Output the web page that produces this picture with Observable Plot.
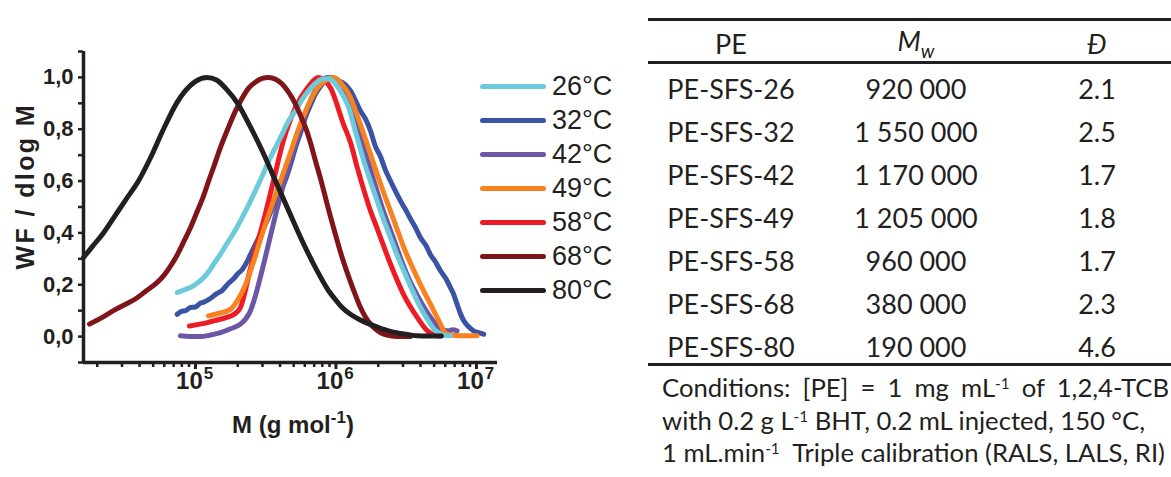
<!DOCTYPE html>
<html><head><meta charset="utf-8">
<script src="https://cdn.jsdelivr.net/npm/d3@7"></script>
<script src="https://cdn.jsdelivr.net/npm/@observablehq/plot@0.6"></script>
<style>
body{margin:0;background:#fff;}
#wrap{position:relative;width:1171px;height:477px;overflow:hidden;font-family:"Liberation Sans",Arial,sans-serif;color:#231f20;}
#chart{position:absolute;left:0;top:0;}
#legend{position:absolute;left:480px;top:69px;}
.lg{height:34px;display:flex;align-items:center;}
.lg .sw{width:66px;height:5px;border-radius:3px;margin-right:6px;}
.lg span{font-size:27px;line-height:34px;}
#tbl{position:absolute;left:0;top:0;width:1171px;height:477px;font-family:Lato,"Open Sans",sans-serif;}
.cell{position:absolute;transform:translate(-50%,-50%);font-size:27px;white-space:nowrap;}
.rule{position:absolute;left:648px;width:530px;height:3px;background:#231f20;}
.cond{position:absolute;left:662px;font-size:23px;white-space:nowrap;transform:translateY(-50%);}
.cond sup{font-size:0.6em;vertical-align:0.55em;line-height:0;}
</style></head>
<body><div id="wrap"><div id="chart"></div><div id="legend"></div><div id="tbl"></div></div>
<script>
// ---------- data (log10 M, WF/dlogM) ----------
const temps = ["26°C","32°C","42°C","49°C","58°C","68°C","80°C"];
const colors = ["#6ccbdb","#3a53a4","#6b57a6","#f7821f","#ed1c24","#7f1518","#231f20"];

const c26 = [[4.87,0.17],[4.92,0.18],[4.964,0.189],[5.01,0.205],[5.059,0.228],[5.1,0.255],[5.13,0.28],[5.178,0.318],[5.237,0.37],[5.285,0.412],[5.332,0.459],[5.38,0.51],[5.427,0.563],[5.475,0.62],[5.522,0.678],[5.57,0.73],[5.617,0.781],[5.66,0.83],[5.712,0.871],[5.76,0.915],[5.806,0.949],[5.85,0.975],[5.902,0.994],[5.95,0.995],[5.996,0.975],[6.04,0.94],[6.091,0.884],[6.139,0.79],[6.17,0.73],[6.198,0.678],[6.245,0.6],[6.293,0.524],[6.34,0.45],[6.388,0.382],[6.435,0.315],[6.483,0.254],[6.53,0.195],[6.578,0.138],[6.625,0.09],[6.673,0.048],[6.71,0.022],[6.744,0.009],[6.78,0.004],[6.815,0.003]];
const c32 = [[4.87,0.086],[4.9,0.097],[4.93,0.1],[4.964,0.112],[5.0,0.114],[5.03,0.127],[5.059,0.133],[5.09,0.142],[5.12,0.153],[5.154,0.167],[5.19,0.178],[5.237,0.207],[5.27,0.222],[5.3,0.242],[5.332,0.258],[5.37,0.292],[5.403,0.33],[5.44,0.37],[5.475,0.408],[5.52,0.46],[5.569,0.524],[5.61,0.57],[5.641,0.605],[5.68,0.67],[5.712,0.73],[5.75,0.79],[5.783,0.846],[5.82,0.895],[5.854,0.936],[5.89,0.965],[5.925,0.987],[5.96,1.0],[6.0,0.995],[6.02,0.987],[6.06,0.975],[6.103,0.949],[6.14,0.91],[6.174,0.871],[6.21,0.84],[6.246,0.794],[6.28,0.735],[6.317,0.695],[6.35,0.645],[6.388,0.601],[6.42,0.565],[6.459,0.524],[6.49,0.495],[6.53,0.455],[6.565,0.422],[6.601,0.382],[6.64,0.352],[6.673,0.316],[6.71,0.287],[6.744,0.254],[6.78,0.226],[6.815,0.189],[6.84,0.16],[6.862,0.125],[6.885,0.09],[6.91,0.061],[6.945,0.038],[6.98,0.022],[7.02,0.014],[7.052,0.009]];
const c42 = [[4.893,0.003],[4.96,0.0],[5.036,0.0],[5.1,0.005],[5.178,0.015],[5.25,0.03],[5.32,0.048],[5.36,0.07],[5.391,0.099],[5.42,0.145],[5.448,0.2],[5.49,0.29],[5.53,0.38],[5.575,0.48],[5.619,0.57],[5.68,0.69],[5.747,0.8],[5.81,0.9],[5.87,0.965],[5.932,1.0],[5.99,0.985],[6.05,0.95],[6.103,0.9],[6.15,0.82],[6.198,0.73],[6.245,0.645],[6.293,0.56],[6.34,0.48],[6.388,0.41],[6.435,0.34],[6.483,0.27],[6.53,0.21],[6.578,0.16],[6.625,0.115],[6.673,0.075],[6.72,0.042],[6.76,0.027],[6.8,0.022],[6.83,0.026],[6.862,0.022]];
const c49 = [[5.093,0.08],[5.17,0.09],[5.249,0.105],[5.3,0.14],[5.356,0.2],[5.42,0.3],[5.477,0.4],[5.54,0.5],[5.605,0.6],[5.67,0.7],[5.733,0.8],[5.8,0.89],[5.87,0.96],[5.93,0.99],[5.982,1.0],[6.04,0.975],[6.103,0.923],[6.15,0.855],[6.198,0.781],[6.245,0.705],[6.293,0.627],[6.34,0.555],[6.388,0.485],[6.435,0.415],[6.483,0.344],[6.53,0.285],[6.578,0.228],[6.625,0.175],[6.673,0.125],[6.71,0.085],[6.744,0.048],[6.77,0.02],[6.791,0.009],[6.85,0.004],[6.93,0.003],[7.004,0.003]];
const c58 = [[4.957,0.041],[5.02,0.047],[5.085,0.054],[5.16,0.065],[5.228,0.075],[5.28,0.088],[5.32,0.112],[5.356,0.18],[5.39,0.26],[5.43,0.34],[5.484,0.445],[5.555,0.6],[5.626,0.756],[5.712,0.884],[5.797,0.96],[5.875,1.0],[5.961,0.96],[6.053,0.82],[6.103,0.75],[6.153,0.65],[6.196,0.57],[6.246,0.485],[6.295,0.415],[6.388,0.28],[6.48,0.164],[6.58,0.073],[6.651,0.022],[6.722,0.003],[6.744,0.002]];
const c68 = [[4.246,0.048],[4.33,0.072],[4.416,0.1],[4.5,0.124],[4.58,0.148],[4.65,0.177],[4.72,0.205],[4.774,0.235],[4.82,0.27],[4.87,0.315],[4.92,0.37],[4.964,0.42],[5.01,0.48],[5.059,0.545],[5.1,0.61],[5.13,0.655],[5.178,0.73],[5.237,0.81],[5.28,0.865],[5.332,0.92],[5.38,0.96],[5.427,0.982],[5.475,0.996],[5.522,1.0],[5.57,0.993],[5.617,0.975],[5.66,0.945],[5.712,0.897],[5.75,0.85],[5.783,0.807],[5.82,0.745],[5.854,0.678],[5.89,0.61],[5.925,0.537],[5.96,0.465],[5.996,0.395],[6.03,0.33],[6.068,0.266],[6.103,0.212],[6.139,0.16],[6.174,0.113],[6.21,0.075],[6.246,0.048],[6.29,0.025],[6.34,0.009],[6.4,0.002],[6.46,0.0],[6.53,0.0]];
const c80 = [[4.203,0.305],[4.27,0.35],[4.345,0.4],[4.42,0.46],[4.5,0.525],[4.594,0.6],[4.68,0.69],[4.772,0.8],[4.865,0.9],[4.93,0.95],[5.0,0.985],[5.083,1.0],[5.15,0.99],[5.22,0.955],[5.3,0.9],[5.39,0.81],[5.475,0.717],[5.569,0.601],[5.664,0.485],[5.759,0.37],[5.854,0.266],[5.949,0.176],[6.0,0.14],[6.044,0.112],[6.103,0.086],[6.17,0.065],[6.222,0.052],[6.28,0.04],[6.34,0.028],[6.4,0.018],[6.459,0.012],[6.52,0.007],[6.578,0.003],[6.65,0.002],[6.75,0.002]];
const curves = [c26,c32,c42,c49,c58,c68,c80];

const yTicks = [-0.1,0,0.1,0.2,0.3,0.4,0.5,0.6,0.7,0.8,0.9,1.0,1.1];
const yLabels = [0,0.2,0.4,0.6,0.8,1.0];
const xMajor = [1e5,1e6,1e7];
const xExp = ["5","6","7"];

// table
const samples = ["PE-SFS-26","PE-SFS-32","PE-SFS-42","PE-SFS-49","PE-SFS-58","PE-SFS-68","PE-SFS-80"];
const mwValues = ["920 000","1 550 000","1 170 000","1 205 000","960 000","380 000","190 000"];
const dispersity = ["2.1","2.5","1.7","1.8","1.7","2.3","4.6"];

// ---------- chart ----------
const xDomain = [10**4.203, 10**7.15];
const xMinor = [];
for (let e = 4; e <= 7; e++) for (let k = 2; k <= 9; k++) { const v = k * 10**e; if (v > xDomain[0] && v < xDomain[1]) xMinor.push(v); }

const ink = "#231f20";
const toRows = (pts, i) => pts.map(([lg, v]) => ({M: 10**lg, v, t: temps[i]}));
const order = [1,2,4,3,0,5,6];
const lineMarks = order.map(i => Plot.line(toRows(curves[i], i), {x:"M", y:"v", stroke: colors[i], strokeWidth: 5, strokeLinecap:"round", strokeLinejoin:"round", curve:"monotone-x"}));

const chart = Plot.plot({
  width: 640, height: 477,
  marginLeft: 83, marginRight: 143, marginTop: 51, marginBottom: 115,
  x: {type:"log", domain: xDomain, axis: null},
  y: {domain: [-0.1, 1.1], axis: null},
  style: {fontFamily: '"Liberation Sans", Arial, sans-serif', color: ink, background: "white"},
  marks: [
    Plot.axisY(yTicks, {label: null, tickSize: 5, tickFormat: () => "", stroke: ink, strokeWidth: 2.5}),
    Plot.axisX(xMinor, {label: null, tickSize: 5, tickFormat: () => "", stroke: ink, strokeWidth: 2.5}),
    Plot.axisX(xMajor, {label: null, tickSize: 7, tickFormat: () => "", stroke: ink, strokeWidth: 3}),
    Plot.ruleX([xDomain[0]], {stroke: ink, strokeWidth: 3.5}),
    Plot.ruleY([-0.1], {stroke: ink, strokeWidth: 3.5}),
    Plot.text(yLabels, {y: d => d, frameAnchor: "left", dx: -10, textAnchor: "end", text: d => d.toFixed(1).replace(".", ","), fontSize: 22, fontWeight: "bold", fill: ink}),
    Plot.text(xMajor, {x: d => d, frameAnchor: "bottom", dy: 26, dx: -6, text: () => "10", fontSize: 24, fontWeight: "bold", fill: ink}),
    Plot.text(xMajor, {x: d => d, frameAnchor: "bottom", dy: 16, dx: 13, text: (d, i) => xExp[i], fontSize: 17, fontWeight: "bold", fill: ink}),
    Plot.text([{s: "WF / dlog M", y: 0.58}], {y: "y", frameAnchor: "left", dx: -58, rotate: -90, textAnchor: "middle", text: "s", fontSize: 25, fontWeight: "bold", fill: ink, className: "ytitle"}),
    ...lineMarks
  ]
});
document.getElementById("chart").append(chart);

const svg = d3.select(chart.tagName === "svg" ? chart : chart.querySelector("svg"));
svg.selectAll(".ytitle text").style("letter-spacing", "2.4px");

// x-axis title with superscript
const xt = svg.append("text").attr("x", 293).attr("y", 433).attr("text-anchor", "middle")
  .attr("font-size", 24).attr("font-weight", "bold").attr("fill", ink)
  .attr("font-family", '"Liberation Sans", Arial, sans-serif');
xt.append("tspan").text("M (g mol");
xt.append("tspan").attr("dy", -10).attr("font-size", 17).text("-1");
xt.append("tspan").attr("dy", 10).text(")");

// ---------- legend ----------
const leg = d3.select("#legend");
temps.forEach((t, i) => {
  const row = leg.append("div").attr("class", "lg");
  row.append("div").attr("class", "sw").style("background", colors[i]);
  row.append("span").text(t);
});

// ---------- table ----------
const tbl = d3.select("#tbl");
const colX = [731, 916, 1097];
const addRule = y => tbl.append("div").attr("class", "rule").style("top", (y - 1.5) + "px");
addRule(19); addRule(62); addRule(364);
const cell = (x, y, html) => tbl.append("div").attr("class", "cell").style("left", x + "px").style("top", y + "px").html(html);
cell(colX[0], 43, "PE");
cell(colX[1], 43, '<i>M</i><sub style="font-size:0.7em;font-style:italic;vertical-align:-0.35em">w</sub>');
cell(colX[2], 43, "<i>Đ</i>");
samples.forEach((s, i) => {
  const y = 88 + i * 43;
  cell(colX[0], y, s);
  cell(colX[1], y, mwValues[i]);
  cell(colX[2], y, dispersity[i]);
});
const cond = [
  ['Conditions: [PE] = 1 mg mL<sup>-1</sup> of 1,2,4-TCB', 387, 507],
  ['with 0.2 g L<sup>-1</sup> BHT, 0.2 mL injected, 150 °C,', 420, 483],
  ['1 mL.min<sup>-1</sup>&nbsp; Triple calibration (RALS, LALS, RI)', 452, 503]
];
const condEls = cond.map(([h, y]) => tbl.append("div").attr("class", "cond").style("top", y + "px").html(h).node());
// size the caption: common font size from line 3, then word spacing to reach each line's width
const w3 = condEls[2].getBoundingClientRect().width;
const fs = 23 * cond[2][2] / w3;
condEls.forEach(el => el.style.fontSize = fs.toFixed(2) + "px");
[0, 1].forEach(k => {
  const el = condEls[k];
  const w = el.getBoundingClientRect().width;
  const nSp = (el.textContent.match(/ /g) || []).length;
  el.style.wordSpacing = ((cond[k][2] - w) / nSp).toFixed(2) + "px";
});
</script></body></html>
